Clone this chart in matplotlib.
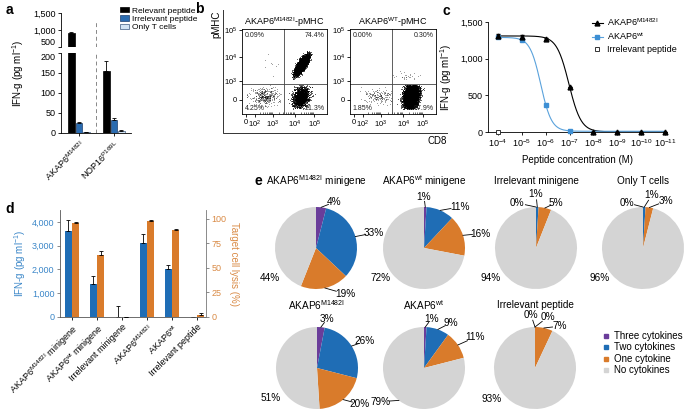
import numpy as np
import matplotlib
matplotlib.use("Agg")
import matplotlib.pyplot as plt
from matplotlib.lines import Line2D
from matplotlib.ticker import NullLocator

plt.rcParams["font.family"] = ["Liberation Sans", "DejaVu Sans"]
plt.rcParams["mathtext.default"] = "regular"
plt.rcParams["font.size"] = 6.5
plt.rcParams["axes.linewidth"] = 0.6
for k in ("xtick", "ytick"):
    plt.rcParams[k + ".major.width"] = 0.6
    plt.rcParams[k + ".major.size"] = 2.5
    plt.rcParams[k + ".major.pad"] = 1.5
    plt.rcParams[k + ".labelsize"] = 6.5

# ---------------- data ----------------
# a
a_groups = ["AKAP6$^{M1482I}$", "NOP16$^{P169L}$"]
a_relevant = [900, 155]
a_relevant_err = [50, 25]
a_irrelevant = [25, 33]
a_irrelevant_err = [2, 4]
a_only_t = [2, 6]
a_only_t_err = [0.5, 1.5]

# b  (quadrant percentages: UL, UR, LL, LR)
b_titles = ["AKAP6$^{M1482I}$-pMHC", "AKAP6$^{WT}$-pMHC"]
b_quadrant_pct = [[0.09, 74.4, 4.25, 21.3], [0.00, 0.30, 1.85, 97.9]]
# where each population sits (axis fraction): centre x, centre y, sd x, sd y, corr
b_clusters = [
    [(0.30, 0.60, 0.08, 0.08, 0.0), (0.70, 0.58, 0.035, 0.05, 0.75),
     (0.27, 0.21, 0.08, 0.05, 0.0), (0.69, 0.20, 0.045, 0.06, 0.2)],
    [(0.30, 0.60, 0.08, 0.08, 0.0), (0.66, 0.42, 0.06, 0.05, 0.0),
     (0.33, 0.21, 0.09, 0.04, 0.0), (0.71, 0.21, 0.04, 0.065, 0.2)],
]
b_events = 9000

# c
c_conc = [1e-4, 1e-5, 1e-6, 1e-7, 1e-8, 1e-9, 1e-10, 1e-11]
c_mut = [1310, 1300, 1265, 620, 5, 3, 2, 2]
c_mut_err = [25, 25, 10, 0, 0, 0, 0, 0]
c_wt_conc = [1e-4, 1e-5, 1e-6, 1e-7]
c_wt = [1290, 1250, 370, 10]
c_irr_conc = [1e-4]
c_irr = [0]

# d
d_groups = ["AKAP6$^{M1482I}$ minigene", "AKAP6$^{wt}$ minigene", "Irrelevant minigene",
            "AKAP6$^{M1482I}$", "AKAP6$^{wt}$", "Irrelevant peptide"]
d_ifn = [3600, 1400, 0, 3100, 2000, 0]
d_ifn_err = [480, 310, 450, 400, 170, 0]
d_lysis = [96, 63, 0, 98, 89, 2]
d_lysis_err = [0.5, 4, 0, 0.5, 0.5, 2]

# e
e_titles = ["AKAP6$^{M1482I}$ minigene", "AKAP6$^{wt}$ minigene", "Irrelevant minigene",
            "Only T cells", "AKAP6$^{M1482I}$", "AKAP6$^{wt}$", "Irrelevant peptide"]
e_categories = ["Three cytokines", "Two cytokines", "One cytokine", "No cytokines"]
e_three = [4, 1, 0, 0, 3, 1, 0]
e_two = [33, 11, 1, 1, 26, 9, 0]
e_one = [19, 16, 5, 3, 20, 11, 7]
e_none = [44, 72, 94, 96, 51, 79, 93]

# ---------------- layout ----------------
W, H = 685, 409
fig = plt.figure(figsize=(W / 100, H / 100), dpi=100)


def rect(l, t, r, b):
    return [l / W, 1 - b / H, (r - l) / W, (b - t) / H]


def Y(y):
    return H - y


BLUE = "#1f6db5"
ORANGE = "#d97b2b"
BLUE_TXT = "#3a86c8"
ORANGE_TXT = "#d98a45"

# ---------------- a ----------------
axa_top = fig.add_axes(rect(61, 13, 131, 47))
axa_bot = fig.add_axes(rect(61, 53, 131, 133))
a_pos = np.arange(len(a_groups))
a_series = [(a_relevant, a_relevant_err, "black", "black", "Relevant peptide"),
            (a_irrelevant, a_irrelevant_err, "#2b6cb0", "#1d3f6e", "Irrelevant peptide"),
            (a_only_t, a_only_t_err, "#d2e4f4", "#3d5a80", "Only T cells")]
for ax in (axa_top, axa_bot):
    for k, (vals, errs, fc, ec, lab) in enumerate(a_series):
        ax.bar(a_pos + (k - 1) * 0.215, vals, 0.19, color=fc, edgecolor=ec, linewidth=0.5,
               yerr=[np.zeros(len(errs)), errs], label=lab,
               error_kw=dict(elinewidth=0.6, capsize=1.5, capthick=0.6, ecolor="black"))
    ax.set_xlim(-0.51, 1.49)
    for s in ("top", "right"):
        ax.spines[s].set_visible(False)
axa_top.axvline(0.5, ymax=0.8, color="#888888", lw=0.7, ls=(0, (4, 3)))
axa_bot.axvline(0.5, color="#888888", lw=0.7, ls=(0, (4, 3)))
axa_top.set_ylim(500, 1500)
axa_top.set_yticks([500, 1000, 1500], ["500", "1,000", "1,500"])
axa_top.get_yticklabels()[0].set_va("bottom")
axa_top.spines["bottom"].set_visible(False)
axa_top.set_xticks([])
axa_bot.set_ylim(0, 200)
axa_bot.set_yticks([0, 50, 100, 150, 200])
axa_bot.get_yticklabels()[-1].set_va("top")
axa_bot.set_xticks(a_pos, a_groups, rotation=45, ha="right", rotation_mode="anchor")
handles, labels = axa_bot.get_legend_handles_labels()
fig.legend(handles, labels, loc="upper left", bbox_to_anchor=(120 / W, 1 - 7 / H),
           fontsize=6, frameon=False, handlelength=1.1, handleheight=0.6,
           labelspacing=0.1, handletextpad=0.4, borderpad=0, borderaxespad=0)

# ---------------- b ----------------
rng = np.random.default_rng(11)
b_boxes = [(242, 29, 327, 114), (350, 29, 436, 114)]
gx, gy = 0.49, 0.35
quad_bounds = [(0, gx, gy, 1), (gx, 1, gy, 1), (0, gx, 0, gy), (gx, 1, 0, gy)]
xt = [0.05, 0.15, 0.36, 0.62, 0.85]
yt = [0.165, 0.39, 0.67, 0.99]
minor = []
for lo, hi in zip(xt[1:-1], xt[2:]):
    minor += list(lo + (hi - lo) * np.log10(np.arange(2, 10)))
for i, box in enumerate(b_boxes):
    ax = fig.add_axes(rect(*box))
    for q, pct in enumerate(b_quadrant_pct[i]):
        n = int(round(pct / 100 * b_events))
        if n == 0:
            continue
        cx, cy, sx, sy, r = b_clusters[i][q]
        cov = [[sx * sx, r * sx * sy], [r * sx * sy, sy * sy]]
        pts = rng.multivariate_normal([cx, cy], cov, size=n * 4)
        x0, x1, y0, y1 = quad_bounds[q]
        keep = (pts[:, 0] > x0 + 0.01) & (pts[:, 0] < x1 - 0.01) & \
               (pts[:, 1] > y0 + 0.06) & (pts[:, 1] < y1 - 0.01)
        pts = pts[keep][:n]
        ax.scatter(pts[:, 0], pts[:, 1], s=0.3, c="black", linewidths=0,
                   alpha=0.85 if pct > 10 else 0.45)
    ax.axvline(gx, color="#444444", lw=0.6)
    ax.axhline(gy, color="#444444", lw=0.6)
    ax.set_xlim(0, 1)
    ax.set_ylim(0, 1)
    ax.set_xticks(xt, ["0", "10$^2$", "10$^3$", "10$^4$", "10$^5$"], fontsize=5.5)
    ax.set_yticks(yt, ["0", "10$^3$", "10$^4$", "10$^5$"], fontsize=5.5)
    ax.set_xticks(minor, minor=True)
    ax.tick_params(axis="x", which="minor", direction="in", length=1.5, width=0.4)
    ax.tick_params(length=2)
    ax.set_title(b_titles[i], fontsize=6.5, pad=3)
    p = b_quadrant_pct[i]
    kw = dict(fontsize=5, transform=ax.transAxes, color="#222222", zorder=5)
    ax.text(0.03, 0.97, f"{p[0]:.2f}%", ha="left", va="top", **kw)
    ax.text(0.97, 0.97, f"{p[1]:.3g}%" if p[1] >= 1 else f"{p[1]:.2f}%", ha="right", va="top", **kw)
    ax.text(0.03, 0.02, f"{p[2]:.3g}%", ha="left", va="bottom", **kw)
    ax.text(0.97, 0.02, f"{p[3]:.3g}%", ha="right", va="bottom", **kw)

# ---------------- c ----------------
axc = fig.add_axes(rect(488, 22, 667, 132))


def fit_curve(conc, resp):
    lx = np.log10(conc)
    resp = np.asarray(resp, float)
    top, bot = resp.max(), resp.min()
    Lg, Hg = np.meshgrid(np.linspace(-9, -4, 501), np.linspace(0.5, 4, 141))
    pred = bot + (top - bot) / (1 + 10 ** ((Lg[..., None] - lx) * Hg[..., None]))
    sse = ((pred - resp) ** 2).sum(-1)
    j = np.unravel_index(np.argmin(sse), sse.shape)
    L, h = Lg[j], Hg[j]
    return lambda x: bot + (top - bot) / (1 + 10 ** ((L - np.log10(x)) * h))


xs = np.logspace(-4, -11, 400)
f_mut = fit_curve(c_conc, c_mut)
f_wt = fit_curve(c_wt_conc, c_wt)
axc.plot(xs, f_mut(xs), color="black", lw=0.8, zorder=2)
axc.plot(xs, f_wt(xs), color="#5aa2dc", lw=0.8, zorder=2)
axc.errorbar(c_conc, c_mut, yerr=c_mut_err, fmt="^", color="black", ms=3.5,
             elinewidth=0.6, capsize=1.5, clip_on=False, zorder=4)
axc.plot(c_wt_conc, c_wt, "s", color="#3d8fd4", ms=3, clip_on=False, zorder=3)
axc.plot(c_irr_conc, c_irr, "s", mfc="white", mec="#333333", mew=0.7, ms=3,
         clip_on=False, zorder=5)
axc.set_xscale("log")
axc.set_xlim(10 ** -3.58, 10 ** -11.08)
axc.set_ylim(0, 1500)
axc.set_xticks(c_conc, [f"10$^{{{int(round(np.log10(c)))}}}$" for c in c_conc])
axc.xaxis.set_minor_locator(NullLocator())
axc.set_yticks([0, 500, 1000, 1500], ["0", "500", "1,000", "1,500"])
for s in ("top", "right"):
    axc.spines[s].set_visible(False)
axc.set_xlabel("Peptide concentration (M)", fontsize=7, labelpad=4)
axc.set_ylabel("IFN-g (pg ml$^{-1}$)", fontsize=7, labelpad=4)
c_handles = [Line2D([], [], color="black", marker="^", ms=3.5, lw=0.8),
             Line2D([], [], color="#5aa2dc", marker="s", mfc="#3d8fd4", mec="#3d8fd4", ms=3, lw=0.8),
             Line2D([], [], ls="none", marker="s", mfc="white", mec="#333333", mew=0.7, ms=3)]
fig.legend(c_handles, ["AKAP6$^{M1482I}$", "AKAP6$^{wt}$", "Irrelevant peptide"],
           loc="upper left", bbox_to_anchor=(592 / W, 1 - 16 / H), fontsize=6.5,
           frameon=False, handlelength=1.2, labelspacing=0.3, handletextpad=0.5,
           borderpad=0, borderaxespad=0)

# ---------------- d ----------------
axd = fig.add_axes(rect(60, 210, 206, 317))
axd2 = axd.twinx()
d_pos = np.arange(len(d_groups))
ekw = dict(elinewidth=0.6, capsize=1.5, capthick=0.6, ecolor="black")
axd.bar(d_pos - 0.15, d_ifn, 0.28, color=BLUE, yerr=[np.zeros(6), d_ifn_err], error_kw=ekw)
axd2.bar(d_pos + 0.15, d_lysis, 0.28, color=ORANGE, yerr=[np.zeros(6), d_lysis_err], error_kw=ekw)
axd.set_xlim(-0.48, 5.36)
axd.set_ylim(0, 4505)
axd2.set_ylim(0, 109)
axd.set_yticks([0, 1000, 2000, 3000, 4000], ["0", "1,000", "2,000", "3,000", "4,000"])
axd2.set_yticks([0, 25, 50, 75, 100])
axd.tick_params(axis="y", colors="#777777", labelcolor=BLUE_TXT)
axd2.tick_params(axis="y", colors="#777777", labelcolor=ORANGE_TXT)
axd.set_xticks(d_pos, d_groups, rotation=45, ha="right", rotation_mode="anchor")
axd.spines["top"].set_visible(False)
axd.spines["right"].set_visible(False)
for s in ("top", "left", "bottom"):
    axd2.spines[s].set_visible(False)
for s in ("left", "bottom"):
    axd.spines[s].set_color("#555555")
axd2.spines["right"].set_color("#777777")
axd.set_ylabel("IFN-g (pg ml$^{-1}$)", color=BLUE_TXT, fontsize=7, labelpad=3)
axd2.set_ylabel("Target cell lysis (%)", color=ORANGE_TXT, fontsize=7, rotation=270,
                labelpad=9)

# ---------------- overlay: b frame, e pies, letters ----------------
ov = fig.add_axes([0, 0, 1, 1])
ov.patch.set_visible(False)

ov.plot([223, 223, 447], [Y(10), Y(133), Y(133)], color="#333333", lw=0.7)
ov.text(216, Y(11), "pMHC", rotation=90, ha="center", va="top", fontsize=7)
ov.text(447, Y(141), "CD8", ha="right", va="center", fontsize=7)
ov.text(18, Y(73), "IFN-g (pg ml$^{-1}$)", rotation=90, ha="center", va="center", fontsize=7)

e_centers = [(316, 248), (424, 248), (536, 248), (643, 248), (317, 368), (424, 368), (535, 368)]
e_radius = 41
e_colors = ["#6a3d9a", BLUE, ORANGE, "#d4d4d4"]
# label placement relative to pie centre (units of radius)
e_label_xy = [
    [(0.45, 1.12), (1.42, 0.37), (0.72, -1.12), (-1.12, -0.72)],
    [(0.0, 1.25), (0.87, 1.0), (1.37, 0.35), (-1.05, -0.72)],
    [(-0.47, 1.1), (0.0, 1.32), (0.48, 1.1), (-1.1, -0.72)],
    [(-0.38, 1.1), (0.22, 1.3), (0.57, 1.15), (-1.07, -0.72)],
    [(0.25, 1.2), (1.17, 0.65), (1.05, -0.88), (-1.12, -0.72)],
    [(0.18, 1.2), (0.65, 1.1), (1.25, 0.75), (-1.05, -0.82)],
    [(-0.1, 1.3), (0.32, 1.25), (0.6, 1.02), (-1.07, -0.75)],
]
e_none_leader = [False, False, False, False, False, True, False]
for i, (cx, cy) in enumerate(e_centers):
    vals = np.array([e_three[i], e_two[i], e_one[i], e_none[i]], float)
    ov.pie(vals, colors=e_colors, startangle=90, counterclock=False,
           center=(cx, Y(cy)), radius=e_radius, frame=True, wedgeprops=dict(linewidth=0))
    frac = vals / vals.sum()
    start = np.concatenate([[0], np.cumsum(frac)[:-1]])
    for k in range(4):
        ang = np.deg2rad(90 - 360 * (start[k] + frac[k] / 2))
        tx = cx + e_label_xy[i][k][0] * e_radius
        ty = Y(cy) + e_label_xy[i][k][1] * e_radius
        ov.text(tx, ty, f"{int(vals[k])}%", ha="center", va="center", fontsize=7.2)
        if k < 3 or e_none_leader[i]:
            ex = cx + np.cos(ang) * e_radius
            ey = Y(cy) + np.sin(ang) * e_radius
            ov.plot([ex, ex + (tx - ex) * 0.55], [ey, ey + (ty - ey) * 0.55],
                    color="black", lw=0.6)
    ty = cy - 67 if i < 4 else cy - 63
    ov.text(cx, Y(ty), e_titles[i], ha="center", va="center", fontsize=7.2)

e_handles = [Line2D([], [], ls="none", marker="s", ms=3, color=c) for c in e_colors]
fig.legend(e_handles, e_categories, loc="upper left", bbox_to_anchor=(603 / W, 1 - 331 / H),
           fontsize=7, frameon=False, handlelength=0.6, labelspacing=0.15, handletextpad=0.5,
           borderpad=0, borderaxespad=0)

for letter, (x, y) in zip("abcde", [(9, 10), (199, 9), (446, 11), (10, 209), (258, 181)]):
    ov.text(x, Y(y), letter, fontsize=10, fontweight="bold", ha="center", va="center")

ov.set_xlim(0, W)
ov.set_ylim(0, H)
ov.axis("off")

fig.savefig("out.png", dpi=100)
